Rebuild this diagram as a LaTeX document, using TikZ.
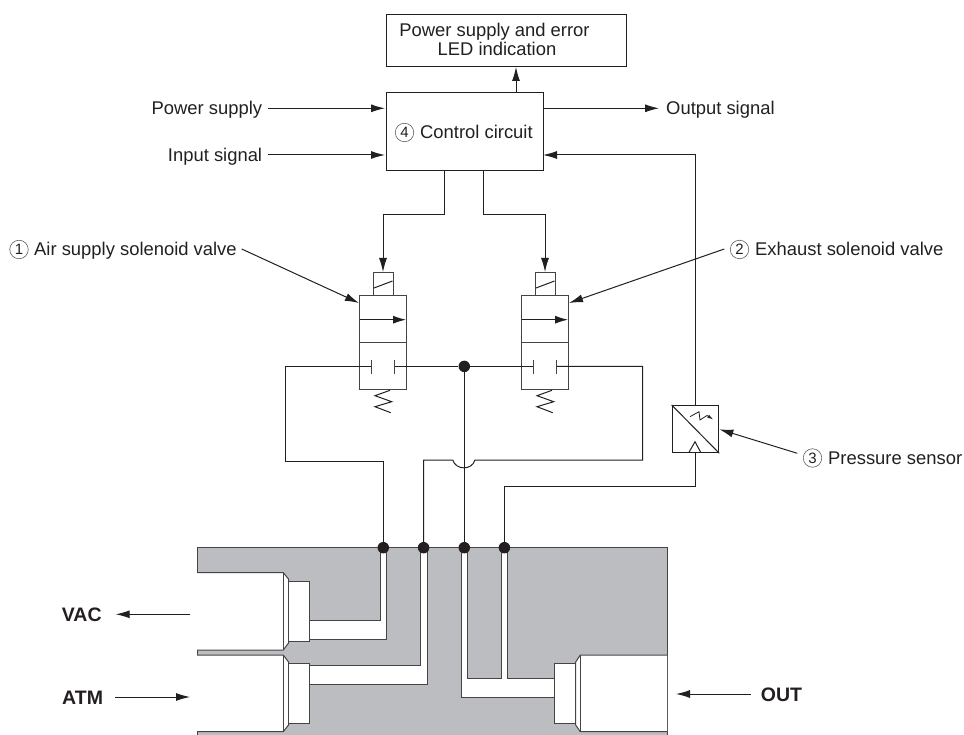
\documentclass[tikz,border=0pt]{standalone}
\usepackage{fontspec}
\setmainfont{Liberation Sans}
\usetikzlibrary{arrows.meta}
\definecolor{mfold}{HTML}{BCBDC0}
\definecolor{ink}{HTML}{231F20}
\definecolor{edge}{HTML}{444444}
\tikzset{
 wire/.style={draw=ink,line width=1pt},
 arr/.style={wire,-{Latex[length=14pt,width=8pt]}},
 part/.style={draw=edge,line width=1pt,fill=white},
 lbl/.style={font=\fontsize{18.4}{20}\selectfont,text=ink,inner sep=0pt},
 blbl/.style={font=\fontsize{19.5}{22}\selectfont\bfseries,text=ink,inner sep=0pt},
 numc/.style={circle,draw=ink!70,line width=0.6pt,minimum size=18.5pt,inner sep=0pt,text=ink,font=\fontsize{15}{15}\selectfont},
 dotn/.style={circle,fill=ink,inner sep=0pt,minimum size=11.5pt},
 boxn/.style={draw=ink,line width=1pt,fill=white,inner sep=0pt}
}
\begin{document}
\begin{tikzpicture}[x=1pt,y=-1pt]
\useasboundingbox (0,0) rectangle (964,735);
% manifold
\fill[mfold] (197,547.7) rectangle (667,735);
\draw[part,fill=none] (197,735) -- (197,547.7) -- (667,547.7) -- (667,735);
% channels
\draw[part] (380,547.7) -- (380,620.7) -- (309.7,620.7) -- (309.7,639.7) -- (386.3,639.7) -- (386.3,547.7);
\draw[part] (420.3,547.7) -- (420.3,665.3) -- (309.7,665.3) -- (309.7,684) -- (427,684) -- (427,547.7);
\draw[part] (461,547.7) -- (461,697) -- (554.3,697) -- (554.3,678.3) -- (507.7,678.3) -- (507.7,547.7) -- (501,547.7) -- (501,678.3) -- (467.3,678.3) -- (467.3,547.7);
% ports
\draw[part] (197,572.7) -- (283.3,572.7) -- (288.5,579) -- (288.5,643) -- (283.3,650) -- (197,650);
\draw[part] (283.3,572.7) -- (283.3,650);
\draw[part] (288.7,581.7) rectangle (309.7,641);
\draw[part] (197,655) -- (283.3,655) -- (288.5,662) -- (288.5,725) -- (283.3,731.7) -- (197,731.7);
\draw[part] (283.3,655) -- (283.3,731.7);
\draw[part] (288.7,663.7) rectangle (309.7,723);
\draw[part] (667,655) -- (580.3,655) -- (575.7,662) -- (575.7,725) -- (580.3,731.7) -- (667,731.7);
\draw[part] (580.3,655) -- (580.3,731.7);
\draw[part] (554.3,663.7) rectangle (575.7,723.3);
% boxes
\node[boxn,minimum width=240pt,minimum height=52.3pt,anchor=north west] (led) at (386,14) {};
\node[lbl,anchor=base] (led1) at (494.5,36.7) {Power supply and error};
\node[lbl,anchor=base] (led2) at (497,56) {LED indication};
\node[boxn,minimum width=157pt,minimum height=78pt,anchor=north west] (ctl) at (385.5,92.5) {};
\node[numc] (n4) at (404.5,132.5) {4};
\node[lbl,anchor=base west] (ctltxt) at (420,139) {Control circuit};
\draw[arr] (516,92.5) -- (516,67);
% inputs
\node[lbl,anchor=base east] (ps) at (262.3,115) {Power supply};
\node[lbl,anchor=base east] (is) at (262.3,162) {Input signal};
\node[lbl,anchor=base west] (os) at (666,115) {Output signal};
\coordinate (pss) at (268,108.3);
\coordinate (iss) at (268,155);
\coordinate (oss) at (659,108.3);
\draw[arr] (pss) -- (385,108.3);
\draw[arr] (iss) -- (385,155);
\draw[arr] (542.5,108.3) -- (oss);
% feedback
\draw[arr] (695,405) -- (695,155) -- (543,155);
% control to valves
\draw[arr] (444,170.5) -- (444,215) -- (383,215) -- (383,272);
\draw[arr] (483,170.5) -- (483,215) -- (545,215) -- (545,272);
% valves
\foreach \dx in {0,162}{
\begin{scope}[xshift=\dx pt]
 \draw[part] (373,272.5) rectangle (393,296);
 \draw[wire] (374,288) -- (392.5,281);
 \draw[part] (359.7,296) rectangle (406.3,389.7);
 \draw[part] (359.7,343) -- (406.3,343);
 \draw[wire,-{Latex[length=13pt,width=8pt]}] (359.7,319.7) -- (406,319.7);
 \draw[wire] (390,390.3) -- (375,395.7) -- (391.7,401.7) -- (375,406.7) -- (390.7,412.7);
 \draw[part] (371,359.7) -- (371,373.7);
 \draw[part] (394.7,359.7) -- (394.7,373.7);
\end{scope}}
% fluid lines
\node[dotn] (d0) at (464.3,366.4) {};
\node[dotn] (d1) at (383.3,547.7) {};
\node[dotn] (d2) at (423.6,547.7) {};
\node[dotn] (d3) at (464.3,547.7) {};
\node[dotn] (d4) at (504.4,547.7) {};
\draw[wire] (371,366.4) -- (285,366.4) -- (285,461) -- (383.3,461) -- (d1);
\draw[wire] (394.7,366.4) -- (d0) -- (533,366.4);
\draw[wire] (556.7,366.4) -- (642.7,366.4) -- (642.7,460) -- (475,460)
  .. controls (472,470.5) and (456,470.5) .. (452.7,460) -- (423.6,460) -- (d2);
\draw[wire] (d0) -- (d3);
\draw[wire] (695,452.3) -- (695,486.5) -- (504.4,486.5) -- (d4);
% sensor
\node[boxn,minimum width=46.6pt,minimum height=47.3pt,anchor=north west] (sbox) at (671.7,405) {};
\draw[wire] (sbox.north west) -- (sbox.south east);
\draw[wire] (689,452.3) -- (695,441.7) -- (700.7,452.3);
\draw[wire,line width=0.8pt,-{Latex[length=6pt,width=3.5pt]}] (690,416.7) -- (699,411.7) -- (700,420) -- (707,415.5) -- (713.3,419.5);
% labels
\node[numc] (n1) at (19,249.5) {1};
\node[lbl,anchor=base west] (l1) at (34,256) {Air supply solenoid valve};
\node[numc] (n2) at (739.5,249.5) {2};
\node[lbl,anchor=base west] (l2) at (755,256) {Exhaust solenoid valve};
\node[numc] (n3) at (812.5,458) {3};
\node[lbl,anchor=base west] (l3) at (828,464.5) {Pressure sensor};
\draw[arr] (241.7,249) -- (359,303);
\draw[arr] (724.3,249) -- (569,303);
\draw[arr] (797.3,453.3) -- (719.3,429.3);
% port labels
\node[blbl,anchor=base west] (vac) at (61.7,621.7) {VAC};
\node[blbl,anchor=base west] (atm) at (62,704) {ATM};
\node[blbl,anchor=base west] (out) at (760.7,701.7) {OUT};
\draw[arr] (190,614.3) -- (115.7,614.3);
\draw[arr] (115,697) -- (190,697);
\draw[arr] (750.7,694) -- (676,694);
\end{tikzpicture}
\end{document}
